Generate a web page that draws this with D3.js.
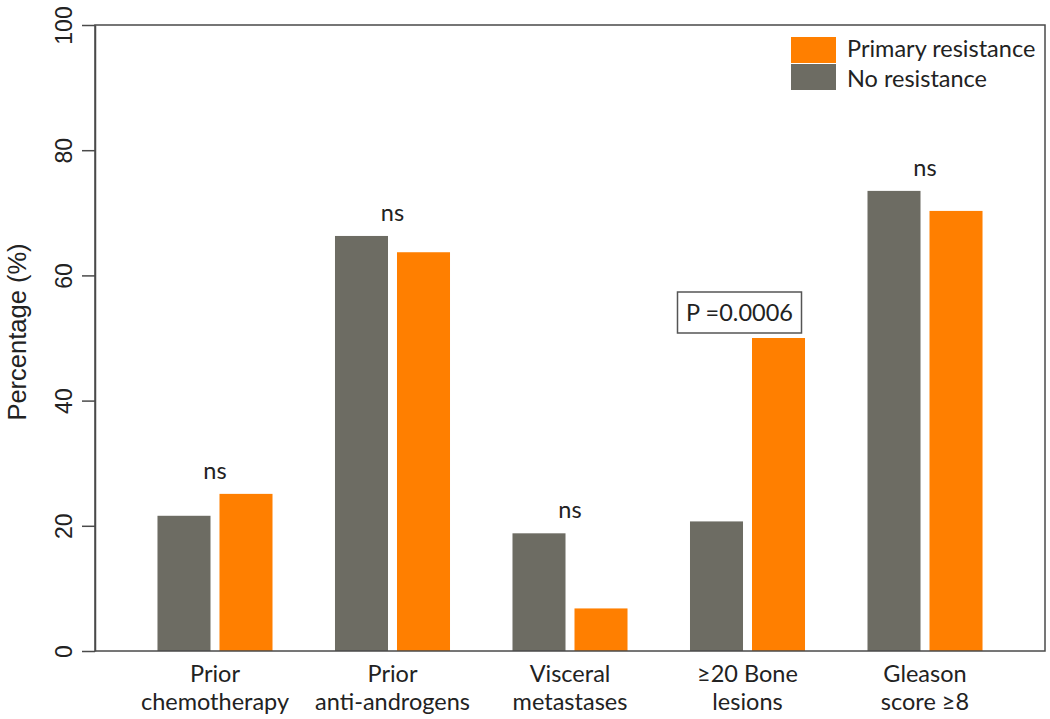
<!DOCTYPE html>
<html>
<head>
<meta charset="utf-8">
<script src="https://cdn.jsdelivr.net/npm/d3@7"></script>
<style>
  html, body { margin: 0; padding: 0; background: #fff; }
  svg { display: block; }
</style>
</head>
<body>
<svg id="chart" width="1050" height="719"></svg>
<script>
// ---- data ----
const categories = [
  ["Prior", "chemotherapy"],
  ["Prior", "anti-androgens"],
  ["Visceral", "metastases"],
  ["\u226520 Bone", "lesions"],
  ["Gleason", "score \u22658"]
];
const seriesNames = ["No resistance", "Primary resistance"];
const noResistance = [21.6, 66.3, 18.8, 20.7, 73.5];
const primaryResistance = [25.1, 63.7, 6.8, 50.0, 70.3];
const annotations = ["ns", "ns", "ns", "P =0.0006", "ns"];
const yTicks = [0, 20, 40, 60, 80, 100];
const legendOrder = ["Primary resistance", "No resistance"];

// ---- layout ----
const colors = { "No resistance": "#6d6c63", "Primary resistance": "#ff7f00" };
const L = 95, R = 1045, T = 25, B = 651;
const svg = d3.select("#chart");
const catKeys = categories.map(c => c.join(" "));

const y = d3.scaleLinear().domain([0, 100]).range([B, T]);
const x0 = d3.scaleBand().domain(catKeys).range([L, R]).paddingInner(0.352).paddingOuter(0.352);
const x1 = d3.scaleBand().domain(seriesNames).range([0, x0.bandwidth()]).paddingInner(0.145);

const data = catKeys.map((k, i) => ({
  key: k, lines: categories[i], ann: annotations[i],
  values: [
    { s: "No resistance", v: noResistance[i] },
    { s: "Primary resistance", v: primaryResistance[i] }
  ]
}));

// bars
const g = svg.append("g");
const grp = g.selectAll("g.grp").data(data).join("g")
  .attr("class", "grp")
  .attr("transform", d => `translate(${x0(d.key)},0)`);
grp.selectAll("rect").data(d => d.values).join("rect")
  .attr("x", d => x1(d.s))
  .attr("y", d => y(d.v))
  .attr("width", x1.bandwidth())
  .attr("height", d => y(0) - y(d.v))
  .attr("fill", d => colors[d.s]);

// box
svg.append("rect")
  .attr("x", L).attr("y", T).attr("width", R - L).attr("height", B - T)
  .attr("fill", "none").attr("stroke", "#4a4a4a").attr("stroke-width", 1.5);

// y axis
const yAxis = svg.append("g")
  .attr("transform", `translate(${L},0)`)
  .call(d3.axisLeft(y).tickValues(yTicks).tickSize(13).tickSizeOuter(0).tickFormat(d3.format("d")));
yAxis.select(".domain").attr("stroke", "#4a4a4a").attr("stroke-width", 1.5);
yAxis.selectAll(".tick line").attr("stroke", "#4a4a4a").attr("stroke-width", 1.5);
yAxis.selectAll(".tick text")
  .attr("x", null).attr("dy", null)
  .attr("transform", "translate(-23,0) rotate(-90)")
  .attr("text-anchor", "middle")
  .attr("fill", "#222")
  .style("font-family", "'Liberation Sans', Arial, sans-serif")
  .style("font-size", "23px");

// y title
svg.append("text")
  .attr("transform", `translate(26,332) rotate(-90)`)
  .attr("text-anchor", "middle")
  .attr("fill", "#222")
  .style("font-family", "'Liberation Sans', Arial, sans-serif")
  .style("font-size", "25.5px")
  .text("Percentage (%)");

// x labels
const font2 = "Lato, 'Open Sans', sans-serif";
const fs2 = "23.5px";
const xl = svg.append("g").selectAll("text").data(data).join("text")
  .attr("text-anchor", "middle")
  .attr("fill", "#222")
  .style("font-family", font2)
  .style("font-size", fs2);
xl.selectAll("tspan").data(d => d.lines.map(l => ({ l, c: x0(d.key) + x0.bandwidth() / 2 }))).join("tspan")
  .attr("x", d => d.c)
  .attr("y", (d, i) => 682 + i * 28)
  .text(d => d.l);

// annotations
data.forEach(d => {
  const cx = x0(d.key) + x0.bandwidth() / 2;
  const top = y(d3.max(d.values, v => v.v));
  if (d.ann === "ns") {
    svg.append("text")
      .attr("x", cx).attr("y", top - 15)
      .attr("text-anchor", "middle").attr("fill", "#222")
      .style("font-family", font2).style("font-size", fs2)
      .text(d.ann);
  } else {
    const bw = 124, bh = 41, bx = cx - 8 - bw / 2, by = top - 5 - bh;
    svg.append("rect").attr("x", bx).attr("y", by).attr("width", bw).attr("height", bh)
      .attr("fill", "#fff").attr("stroke", "#555").attr("stroke-width", 1.5);
    svg.append("text")
      .attr("x", bx + bw / 2).attr("y", by + bh / 2 + 8)
      .attr("text-anchor", "middle").attr("fill", "#222")
      .style("font-family", font2).style("font-size", fs2)
      .text(d.ann);
  }
});

// legend
const lg = svg.append("g").selectAll("g").data(legendOrder).join("g");
lg.append("rect")
  .attr("x", 791).attr("y", (d, i) => 37 + i * 27)
  .attr("width", 45).attr("height", 26)
  .attr("fill", d => colors[d]);
lg.append("text")
  .attr("x", 847).attr("y", (d, i) => 57 + i * 30)
  .attr("fill", "#222")
  .style("font-family", font2).style("font-size", fs2)
  .text(d => d);
</script>
</body>
</html>
